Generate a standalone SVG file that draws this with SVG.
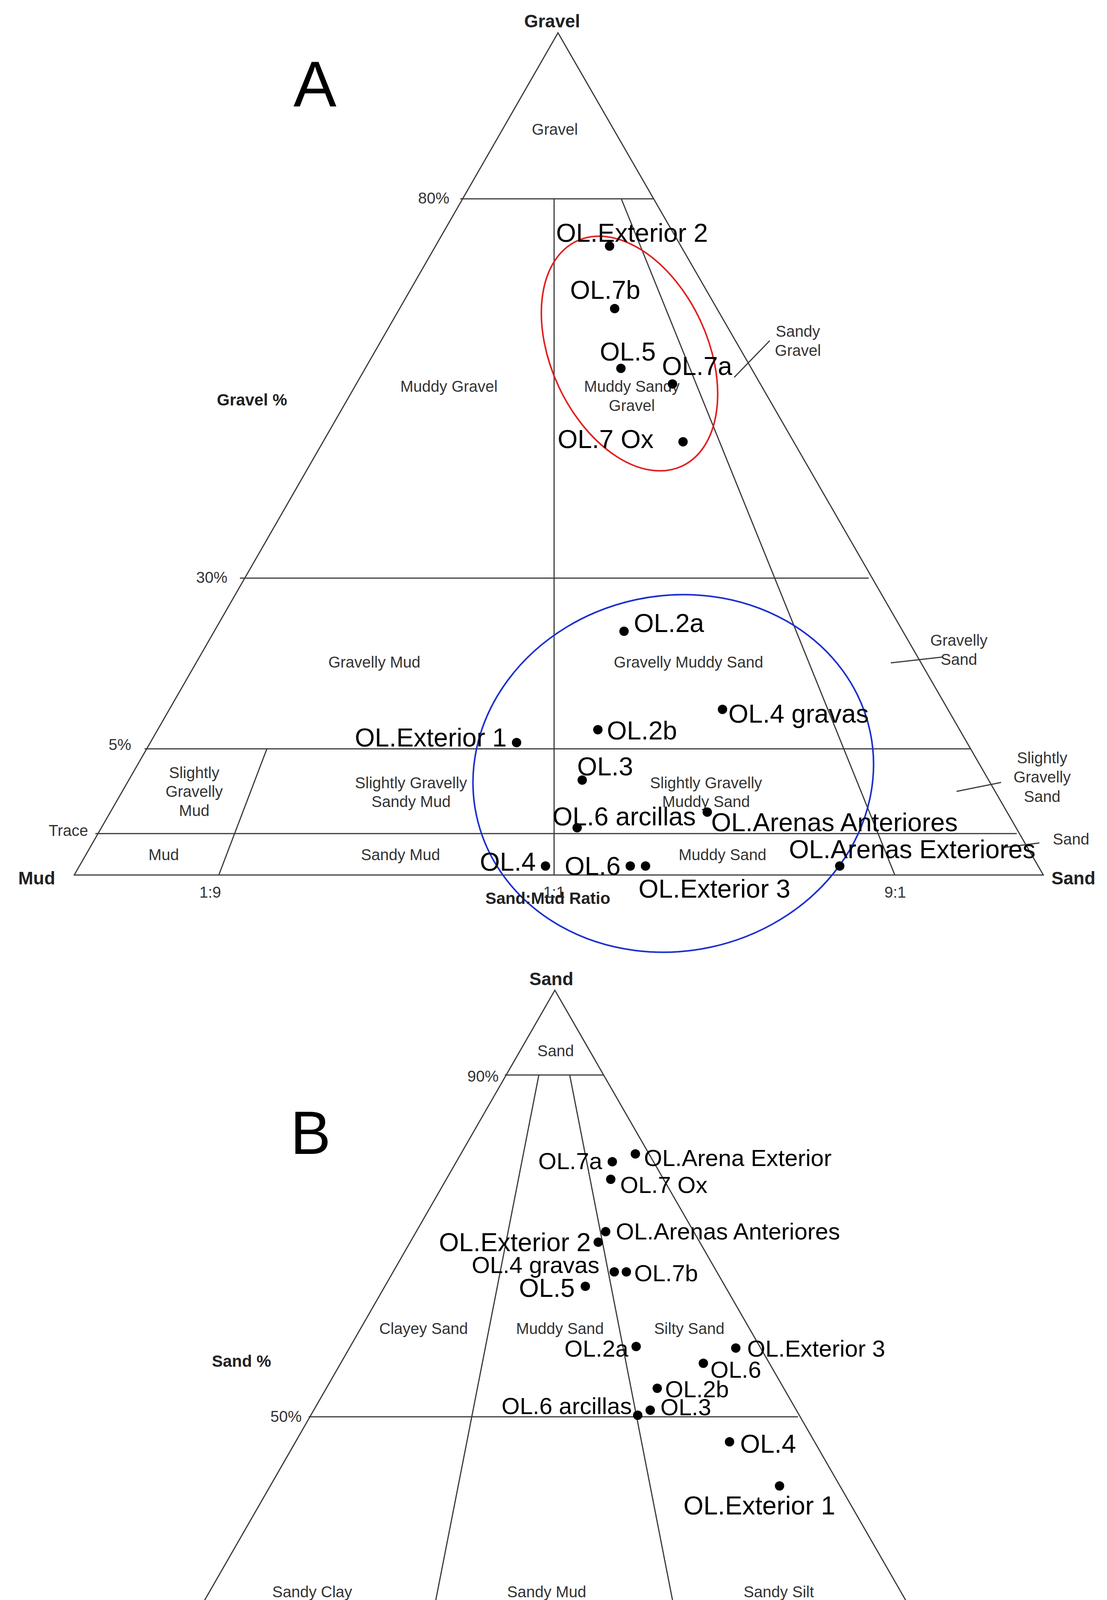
<svg xmlns="http://www.w3.org/2000/svg" width="2833" height="4816" viewBox="0 0 2833 4816">
<style>
.ln{stroke:#3a3a3a;stroke-width:3;fill:none}
.s{font-family:"Liberation Sans",Arial,sans-serif;font-size:40px;fill:#333;text-anchor:middle}
.b{font-family:"Liberation Sans",Arial,sans-serif;font-size:46px;font-weight:bold;fill:#222;text-anchor:middle}
.L{font-family:"Liberation Sans",Arial,sans-serif;font-size:66px;fill:#000}
.M{font-family:"Liberation Sans",Arial,sans-serif;font-size:60px;fill:#000}
.big{font-family:"Liberation Sans",Arial,sans-serif;font-size:165px;fill:#000;text-anchor:middle}
.d{fill:#000}
</style>
<rect width="2833" height="4816" fill="#fff"/>
<g id="connectors">
<!-- Triangle A -->
<polygon class="ln" points="1428,84 190,2240 2670,2240"/>
<line class="ln" x1="1178" y1="509" x2="1672" y2="509"/>
<line class="ln" x1="614" y1="1480" x2="2223" y2="1480"/>
<line class="ln" x1="370" y1="1917" x2="2485" y2="1917"/>
<line class="ln" x1="244" y1="2134" x2="2602" y2="2134"/>
<line class="ln" x1="1418" y1="509" x2="1418" y2="2240"/>
<line class="ln" x1="1590" y1="509" x2="2290" y2="2240"/>
<line class="ln" x1="683" y1="1917" x2="560" y2="2240"/>
<line class="ln" x1="1970" y1="872" x2="1879" y2="966"/>
<line class="ln" x1="2280" y1="1697" x2="2412" y2="1682"/>
<line class="ln" x1="2448" y1="2026" x2="2562" y2="2003"/>
<line class="ln" x1="2565" y1="2170" x2="2660" y2="2158"/>
<!-- Triangle B -->
<polygon class="ln" points="1420,2535 175,4704 2667,4704"/>
<line class="ln" x1="1292" y1="2752" x2="1545" y2="2752"/>
<line class="ln" x1="790" y1="3627" x2="2042" y2="3627"/>
<line class="ln" x1="289" y1="4490" x2="2544" y2="4490"/>
<line class="ln" x1="1379" y1="2752" x2="996" y2="4704"/>
<line class="ln" x1="1458" y1="2752" x2="1840" y2="4704"/>
<!-- ellipses -->
<ellipse cx="1611" cy="905" rx="200" ry="318" transform="rotate(-25 1611 905)" fill="none" stroke="#e0201f" stroke-width="4"/>
<ellipse cx="1723" cy="1980" rx="515" ry="455" transform="rotate(-12 1723 1980)" fill="none" stroke="#1a2fd0" stroke-width="4"/>
</g>
<g id="labelsA">
<text class="big" x="806" y="272">A</text>
<text class="b" x="1413" y="70">Gravel</text>
<text class="s" x="1420" y="345">Gravel</text>
<text class="s" x="1150" y="521" text-anchor="end" style="text-anchor:end">80%</text>
<text class="s" x="1149" y="1003">Muddy Gravel</text>
<text class="b" x="645" y="1038" style="font-size:42px">Gravel %</text>
<text class="s" x="1617" y="1003">Muddy Sandy</text>
<text class="s" x="1617" y="1052">Gravel</text>
<text class="s" x="2042" y="862">Sandy</text>
<text class="s" x="2042" y="911">Gravel</text>
<text class="s" x="542" y="1492">30%</text>
<text class="s" x="958" y="1709">Gravelly Mud</text>
<text class="s" x="1762" y="1709">Gravelly Muddy Sand</text>
<text class="s" x="2454" y="1653">Gravelly</text>
<text class="s" x="2454" y="1702">Sand</text>
<text class="s" x="307" y="1920">5%</text>
<text class="s" x="497" y="1992">Slightly</text>
<text class="s" x="497" y="2040">Gravelly</text>
<text class="s" x="497" y="2089">Mud</text>
<text class="s" x="1052" y="2018">Slightly Gravelly</text>
<text class="s" x="1052" y="2066">Sandy Mud</text>
<text class="s" x="1807" y="2018">Slightly Gravelly</text>
<text class="s" x="1807" y="2066">Muddy Sand</text>
<text class="s" x="2667" y="1954">Slightly</text>
<text class="s" x="2667" y="2003">Gravelly</text>
<text class="s" x="2667" y="2053">Sand</text>
<text class="s" x="175" y="2140">Trace</text>
<text class="s" x="419" y="2202">Mud</text>
<text class="s" x="1025" y="2202">Sandy Mud</text>
<text class="s" x="1849" y="2202">Muddy Sand</text>
<text class="s" x="2741" y="2162">Sand</text>
<text class="b" x="94" y="2264">Mud</text>
<text class="b" x="2747" y="2264">Sand</text>
<text class="s" x="538" y="2298">1:9</text>
<text class="s" x="1418" y="2298">1:1</text>
<text class="b" x="1402" y="2314" style="font-size:42px">Sand:Mud Ratio</text>
<text class="s" x="2291" y="2298">9:1</text>
</g>
<g id="pointsA">
<circle class="d" cx="1560" cy="630" r="12"/><text class="L" x="1423" y="619">OL.Exterior 2</text>
<circle class="d" cx="1573" cy="790" r="12"/><text class="L" x="1459" y="765">OL.7b</text>
<circle class="d" cx="1589" cy="943" r="12"/><text class="L" x="1535" y="923">OL.5</text>
<circle class="d" cx="1721" cy="983" r="12"/><text class="L" x="1694" y="960">OL.7a</text>
<circle class="d" cx="1748" cy="1131" r="12"/><text class="L" x="1427" y="1147">OL.7 Ox</text>
<circle class="d" cx="1597" cy="1616" r="12"/><text class="L" x="1622" y="1618">OL.2a</text>
<circle class="d" cx="1849" cy="1816" r="12"/><text class="L" x="1864" y="1850">OL.4 gravas</text>
<circle class="d" cx="1322" cy="1901" r="12"/><text class="L" x="908" y="1911">OL.Exterior 1</text>
<circle class="d" cx="1530" cy="1868" r="12"/><text class="L" x="1553" y="1893">OL.2b</text>
<circle class="d" cx="1490" cy="1997" r="12"/><text class="L" x="1477" y="1985">OL.3</text>
<circle class="d" cx="1477" cy="2119" r="12"/><text class="L" x="1414" y="2113">OL.6 arcillas</text>
<circle class="d" cx="1810" cy="2079" r="12"/><text class="L" x="1820" y="2128">OL.Arenas Anteriores</text>
<circle class="d" cx="2149" cy="2217" r="12"/><text class="L" x="2019" y="2197">OL.Arenas Exteriores</text>
<circle class="d" cx="1396" cy="2217" r="12"/><text class="L" x="1228" y="2229">OL.4</text>
<circle class="d" cx="1613" cy="2217" r="12"/><circle class="d" cx="1652" cy="2217" r="12"/><text class="L" x="1445" y="2240">OL.6</text>
<text class="L" x="1634" y="2298">OL.Exterior 3</text>
</g>
<g id="labelsB">
<text class="big" x="795" y="2954" style="font-size:155px">B</text>
<text class="b" x="1411" y="2522">Sand</text>
<text class="s" x="1422" y="2704">Sand</text>
<text class="s" x="1276" y="2769" style="text-anchor:end">90%</text>
<text class="s" x="1084" y="3415">Clayey Sand</text>
<text class="s" x="1433" y="3415">Muddy Sand</text>
<text class="s" x="1764" y="3415">Silty Sand</text>
<text class="b" x="618" y="3499" style="font-size:42px">Sand %</text>
<text class="s" x="732" y="3640">50%</text>
<text class="s" x="799" y="4089">Sandy Clay</text>
<text class="s" x="1399" y="4089">Sandy Mud</text>
<text class="s" x="1993" y="4089">Sandy Silt</text>
<text class="s" x="237" y="4494">10%</text>
<text class="s" x="562" y="4605">Clay</text>
<text class="s" x="1428" y="4602">Mud</text>
<text class="s" x="2181" y="4605">Silt</text>
<text class="b" x="81" y="4732">Clay</text>
<text class="b" x="2725" y="4732">Silt</text>
<text class="s" x="990" y="4767">1:2</text>
<text class="b" x="1373" y="4783" style="font-size:42px">Silt:Clay  Ratio</text>
<text class="s" x="1838" y="4767">2:1</text>
</g>
<g id="pointsB">
<circle class="d" cx="1626" cy="2954" r="12"/><text class="M" x="1648" y="2985">OL.Arena Exterior</text>
<circle class="d" cx="1567" cy="2974" r="12"/><text class="M" x="1541" y="2993" text-anchor="end">OL.7a</text>
<circle class="d" cx="1563" cy="3019" r="12"/><text class="M" x="1587" y="3054">OL.7 Ox</text>
<circle class="d" cx="1550" cy="3153" r="12"/><text class="M" x="1576" y="3173">OL.Arenas Anteriores</text>
<circle class="d" cx="1531" cy="3180" r="12"/><text class="L" x="1512" y="3203" text-anchor="end">OL.Exterior 2</text>
<circle class="d" cx="1572" cy="3256" r="12"/><text class="M" x="1534" y="3259" text-anchor="end">OL.4 gravas</text>
<circle class="d" cx="1603" cy="3256" r="12"/><text class="M" x="1623" y="3280">OL.7b</text>
<circle class="d" cx="1498" cy="3293" r="12"/><text class="L" x="1471" y="3320" text-anchor="end">OL.5</text>
<circle class="d" cx="1628" cy="3447" r="12"/><text class="M" x="1608" y="3473" text-anchor="end">OL.2a</text>
<circle class="d" cx="1883" cy="3451" r="12"/><text class="M" x="1912" y="3473">OL.Exterior 3</text>
<circle class="d" cx="1800" cy="3490" r="12"/><text class="M" x="1818" y="3527">OL.6</text>
<circle class="d" cx="1682" cy="3554" r="12"/><text class="M" x="1702" y="3577">OL.2b</text>
<circle class="d" cx="1632" cy="3623" r="12"/><text class="M" x="1617" y="3620" text-anchor="end">OL.6 arcillas</text>
<circle class="d" cx="1664" cy="3610" r="12"/><text class="M" x="1690" y="3623">OL.3</text>
<circle class="d" cx="1867" cy="3691" r="12"/><text class="L" x="1894" y="3719">OL.4</text>
<circle class="d" cx="1995" cy="3804" r="12"/><text class="L" x="1749" y="3877">OL.Exterior 1</text>
</g>
</svg>
